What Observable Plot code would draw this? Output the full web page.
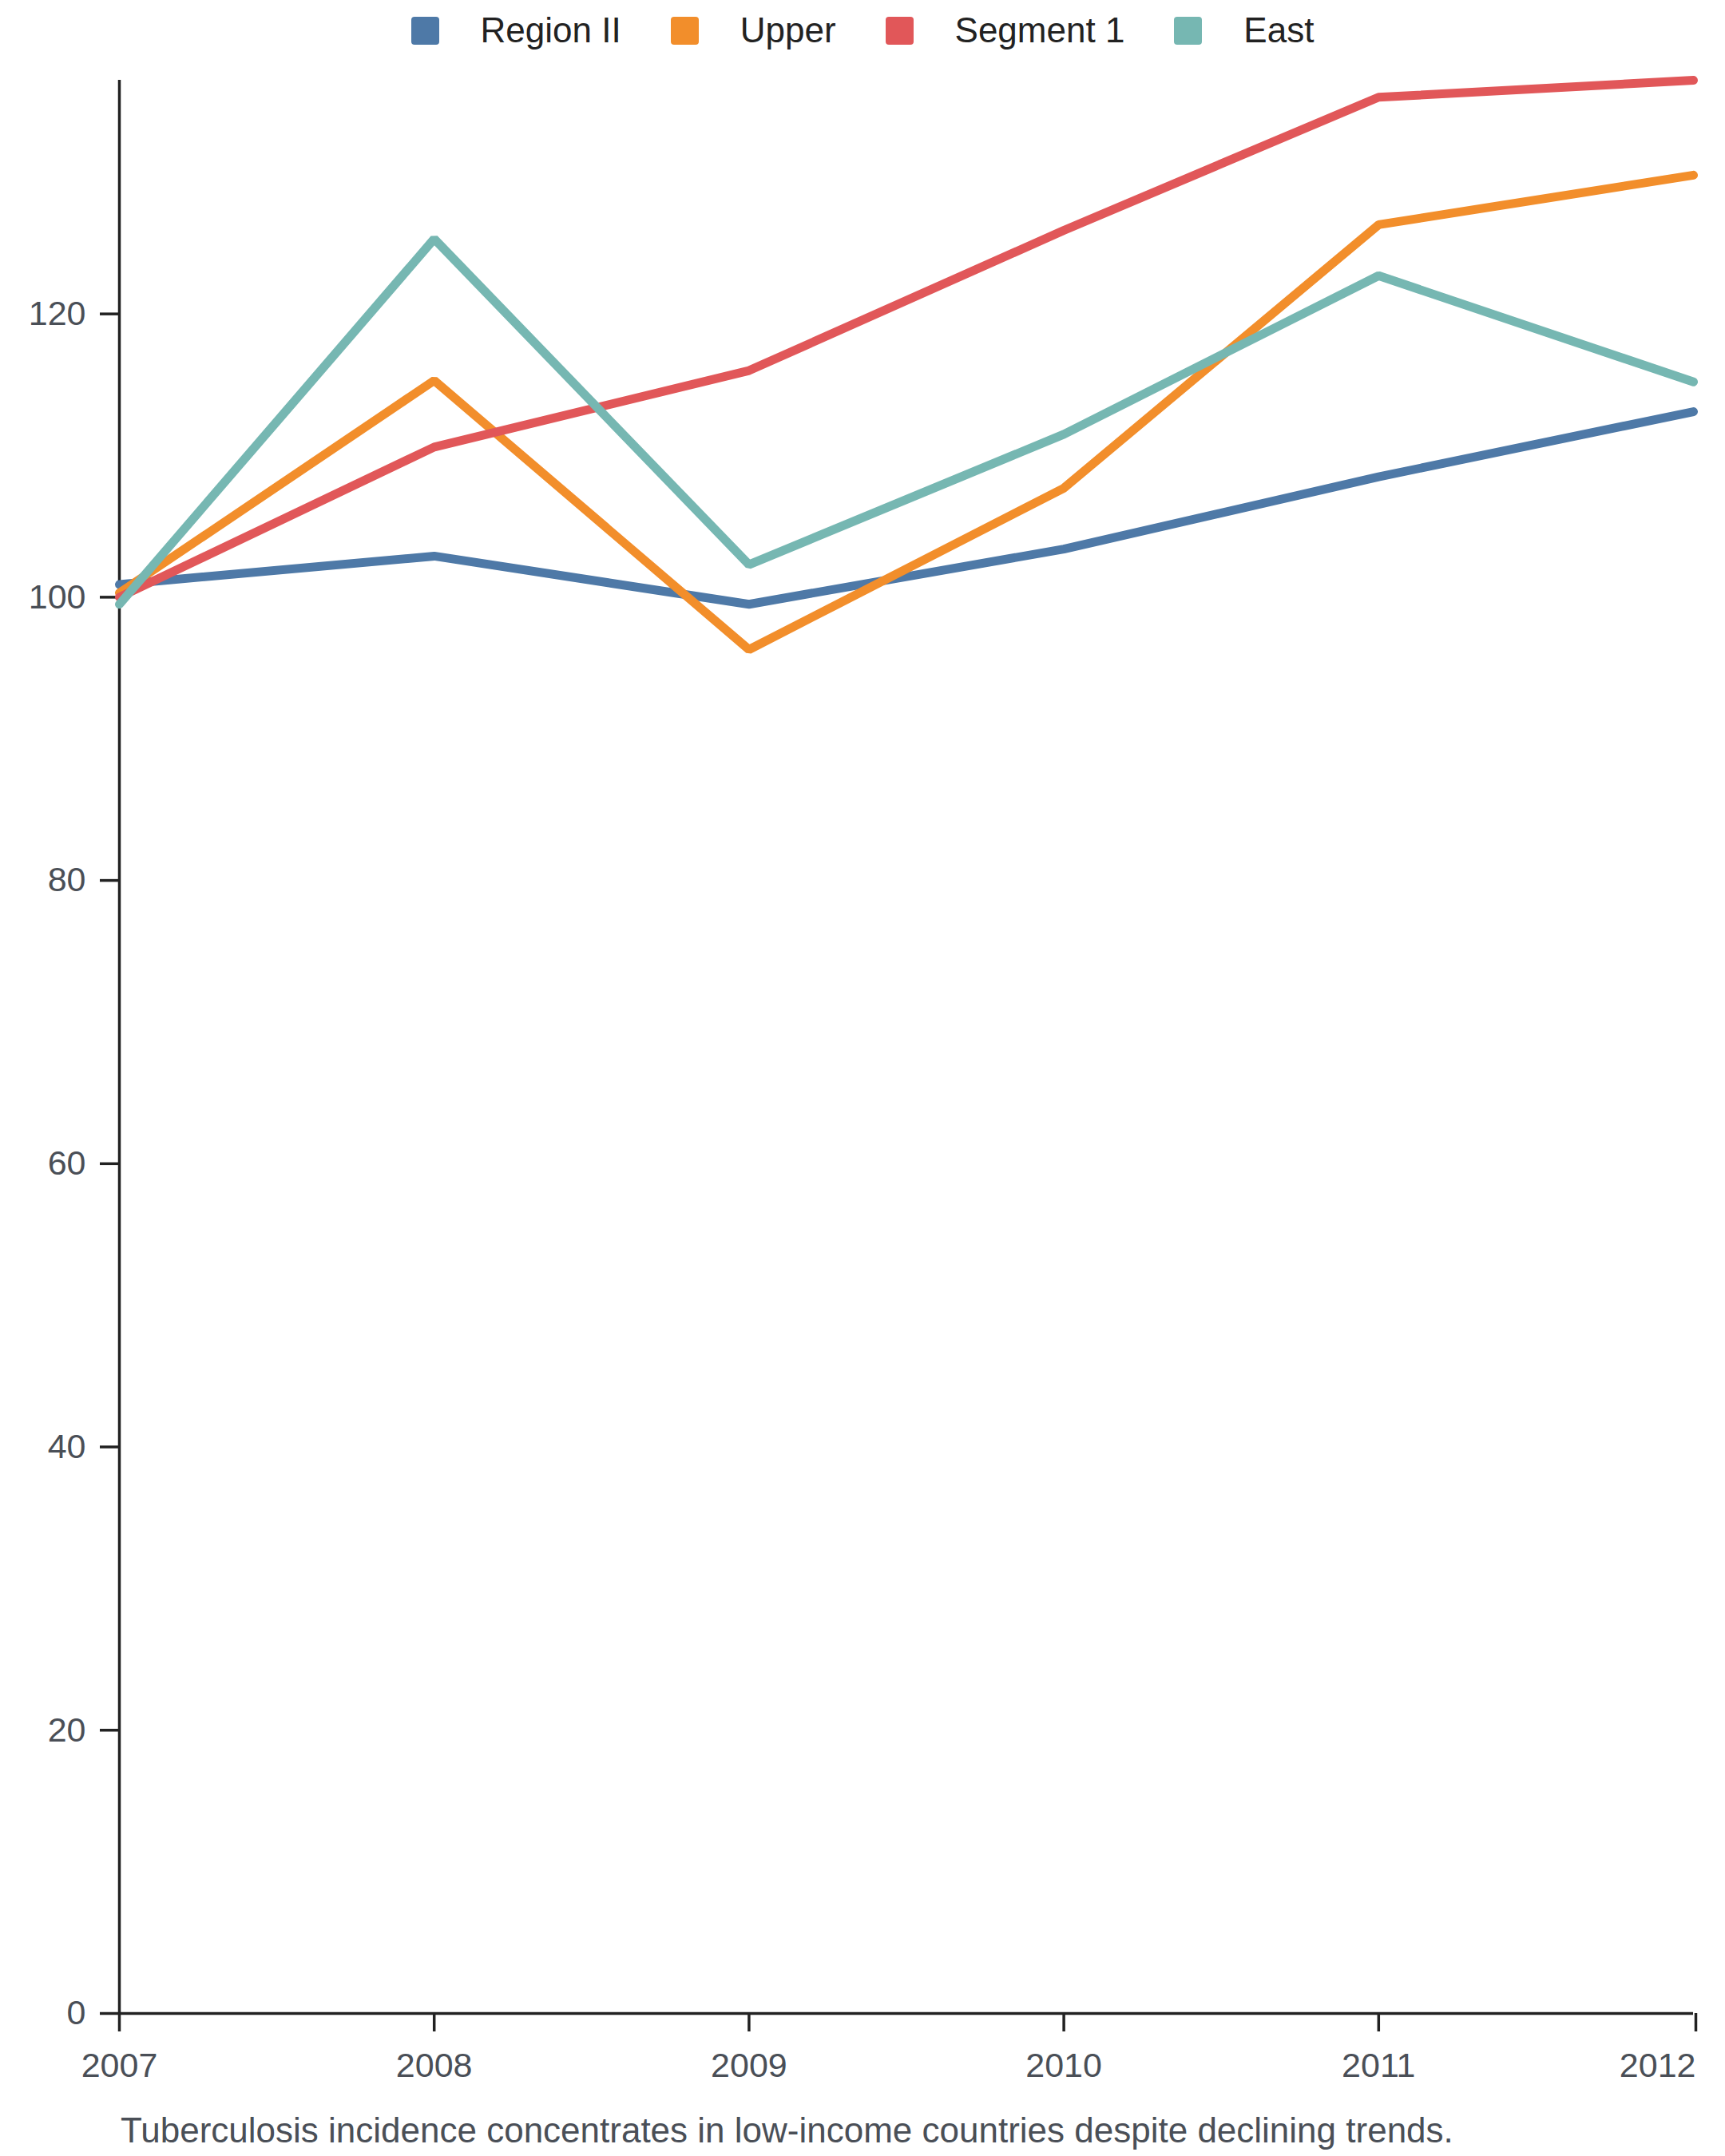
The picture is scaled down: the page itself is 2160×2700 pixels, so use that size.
<!DOCTYPE html>
<html>
<head>
<meta charset="utf-8">
<script src="https://cdn.jsdelivr.net/npm/d3@7"></script>
<script src="https://cdn.jsdelivr.net/npm/@observablehq/plot@0.6"></script>
<style>
  html, body { margin: 0; padding: 0; background: #fff; }
  body { width: 2160px; font-family: "Liberation Sans", Arial, sans-serif; }
  #legend { height: 76px; display: flex; justify-content: center; align-items: center; gap: 0; }
  .item { display: flex; align-items: center; margin: 0 31px; font-size: 44px; color: #222; }
  .sw { width: 35px; height: 35px; border-radius: 4px; margin-right: 52px; }
  #caption { margin-top: 32px; padding-left: 151px; font-size: 44px; color: #4a4f57; }
</style>
</head>
<body>
<div id="legend"></div>
<div id="chart"></div>
<div id="caption">Tuberculosis incidence concentrates in low-income countries despite declining trends.</div>
<script>
const years = [2007, 2008, 2009, 2010, 2011, 2012];
const seriesNames = ["Region II", "Upper", "Segment 1", "East"];
const colors = ["#4e79a7", "#f28e2b", "#e15759", "#76b7b2"];
const regionII = [100.9, 102.9, 99.5, 103.4, 108.5, 113.1];
const upper    = [100.3, 115.3, 96.3, 107.7, 126.3, 129.8];
const segment1 = [100.0, 110.6, 116.0, 125.9, 135.3, 136.5];
const east     = [99.5, 125.3, 102.3, 111.5, 122.7, 115.2];
const yTicks = [0, 20, 40, 60, 80, 100, 120];

const allSeries = [regionII, upper, segment1, east];
const data = [];
seriesNames.forEach((name, i) => {
  years.forEach((yr, j) => data.push({series: name, year: yr, value: allSeries[i][j]}));
});
const yMax = d3.max(data, d => d.value);

// legend
const legend = document.getElementById("legend");
seriesNames.forEach((name, i) => {
  const it = document.createElement("div");
  it.className = "item";
  const sw = document.createElement("div");
  sw.className = "sw";
  sw.style.background = colors[i];
  const tx = document.createElement("span");
  tx.textContent = name;
  it.appendChild(sw); it.appendChild(tx);
  legend.appendChild(it);
});

const lastYear = years[years.length - 1];
const axisCommon = {tickSize: 23, tickPadding: 26, strokeWidth: 3.5, stroke: "#222", fill: "#4a4f57", label: null, tickFormat: d => String(d)};

const chart = Plot.plot({
  width: 2160,
  height: 2535,
  marginTop: 24,
  marginLeft: 149,
  marginRight: 40,
  marginBottom: 90,
  style: {fontFamily: "'Liberation Sans', Arial, sans-serif", fontSize: "43px", color: "#4a4f57", background: "#fff"},
  x: {domain: [years[0], lastYear], label: null},
  y: {domain: [0, yMax], label: null},
  color: {domain: seriesNames, range: colors},
  marks: [
    Plot.axisX({...axisCommon, ticks: years.slice(0, -1)}),
    Plot.axisX({...axisCommon, ticks: [lastYear], textAnchor: "end", dx: 3}),
    Plot.axisY({ticks: yTicks, tickSize: 24, tickPadding: 18, strokeWidth: 3.5, stroke: "#222", fill: "#4a4f57", label: null}),
    Plot.ruleX([years[0]], {stroke: "#222", strokeWidth: 3.5}),
    Plot.ruleY([0], {stroke: "#222", strokeWidth: 3.5}),
    Plot.line(data, {x: "year", y: "value", z: "series", stroke: "series", strokeWidth: 11, strokeLinejoin: "miter"})
  ]
});
document.getElementById("chart").appendChild(chart);
</script>
</body>
</html>
